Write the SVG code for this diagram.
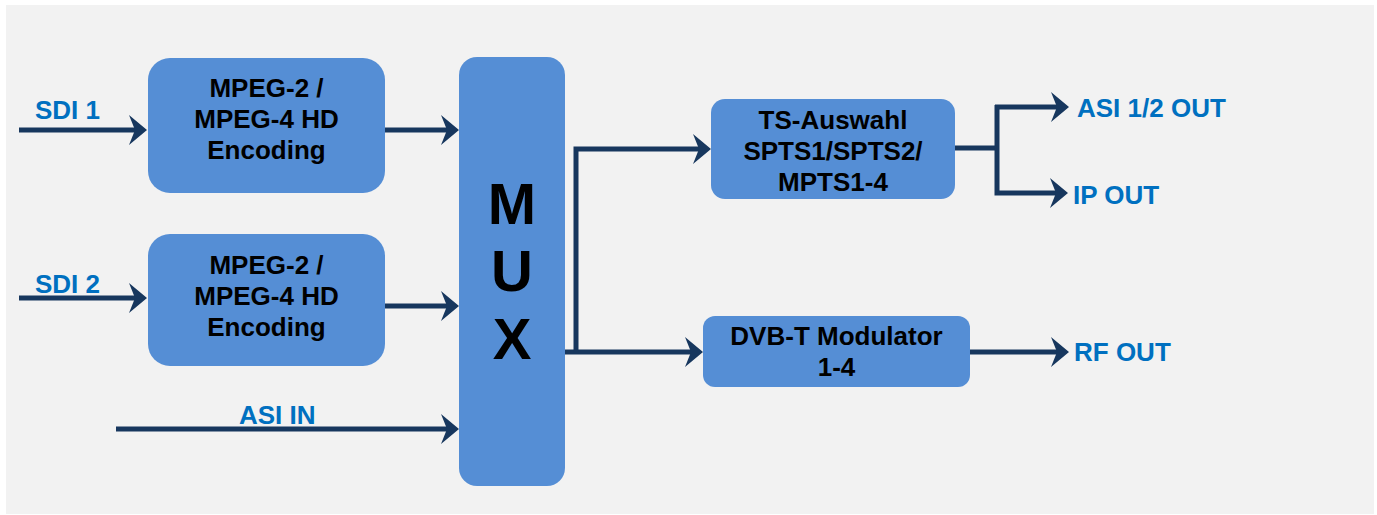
<svg xmlns="http://www.w3.org/2000/svg" width="1377" height="515" viewBox="0 0 1377 515">
<defs>
<style>
.box{fill:#558ED5;}
.t{font-family:"Liberation Sans",Arial,sans-serif;font-weight:bold;font-size:26px;fill:#000;text-anchor:middle;}
.mux{font-family:"Liberation Sans",Arial,sans-serif;font-weight:bold;font-size:58px;fill:#000;text-anchor:middle;}
.lbl{font-family:"Liberation Sans",Arial,sans-serif;font-weight:bold;font-size:26px;fill:#0070C0;}
.c{fill:none;stroke:#17375E;stroke-width:5;}
</style>
<marker id="ah" markerUnits="userSpaceOnUse" markerWidth="20" markerHeight="32" refX="10" refY="15" orient="auto" viewBox="0 0 20 30">
<path d="M0,0 L18,15 L0,30 L6,15 Z" fill="#17375E"/>
</marker>
</defs>
<rect x="0" y="0" width="1377" height="515" fill="#ffffff"/>
<rect x="6" y="5" width="1368" height="509" fill="#F2F2F2"/>

<g id="connectors">
<path class="c" d="M19,130 H139" marker-end="url(#ah)"/>
<path class="c" d="M19,298 H139" marker-end="url(#ah)"/>
<path class="c" d="M385,130 H451" marker-end="url(#ah)"/>
<path class="c" d="M385,306 H451" marker-end="url(#ah)"/>
<path class="c" d="M116,429 H451" marker-end="url(#ah)"/>
<path class="c" d="M565,352 H695" marker-end="url(#ah)"/>
<path class="c" d="M576,352 V149 H703" marker-end="url(#ah)"/>
<path class="c" d="M955,148 H997"/>
<path class="c" d="M997,105 V193 H1060" marker-end="url(#ah)"/>
<path class="c" d="M995,107 H1061" marker-end="url(#ah)"/>
<path class="c" d="M970,352 H1061" marker-end="url(#ah)"/>
</g>

<g id="labels">
<text class="lbl" x="35" y="119">SDI 1</text>
<text class="lbl" x="35" y="293">SDI 2</text>
<text class="lbl" x="239" y="424">ASI IN</text>
<text class="lbl" x="1077" y="117">ASI 1/2 OUT</text>
<text class="lbl" x="1073" y="204">IP OUT</text>
<text class="lbl" x="1074" y="361">RF OUT</text>
</g>

<g id="enc1">
<rect class="box" x="148" y="58" width="237" height="135" rx="22"/>
<text class="t" x="266.5" y="97">MPEG-2 /</text>
<text class="t" x="266.5" y="128">MPEG-4 HD</text>
<text class="t" x="266.5" y="159">Encoding</text>
</g>

<g id="enc2">
<rect class="box" x="148" y="234" width="237" height="132" rx="22"/>
<text class="t" x="266.5" y="274">MPEG-2 /</text>
<text class="t" x="266.5" y="305">MPEG-4 HD</text>
<text class="t" x="266.5" y="336">Encoding</text>
</g>

<g id="mux">
<rect class="box" x="459" y="57" width="106" height="429" rx="18"/>
<text class="mux" x="512" y="224">M</text>
<text class="mux" x="512" y="291">U</text>
<text class="mux" x="512" y="359">X</text>
</g>

<g id="ts">
<rect class="box" x="711" y="99" width="244" height="100" rx="14"/>
<text class="t" x="833" y="129">TS-Auswahl</text>
<text class="t" x="833" y="160">SPTS1/SPTS2/</text>
<text class="t" x="833" y="191">MPTS1-4</text>
</g>

<g id="dvbt">
<rect class="box" x="703" y="316" width="267" height="71" rx="12"/>
<text class="t" x="836.5" y="345">DVB-T Modulator</text>
<text class="t" x="836.5" y="376">1-4</text>
</g>
</svg>
